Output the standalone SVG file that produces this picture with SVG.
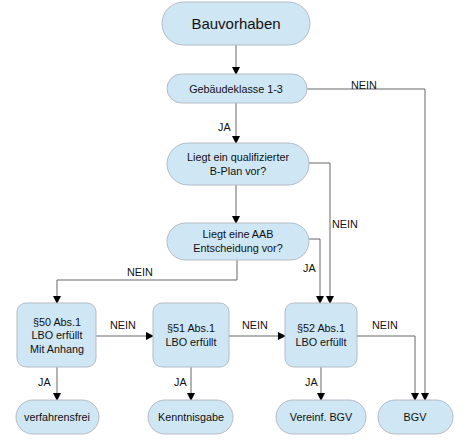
<svg xmlns="http://www.w3.org/2000/svg" width="464" height="445" viewBox="0 0 464 445">
<style>
.n{fill:#cfe6f5;stroke:#b4bcc4;stroke-width:1}
.t{font-family:"Liberation Sans",Arial,sans-serif;font-size:10.8px;fill:#111;text-anchor:middle}
.l{font-family:"Liberation Sans",Arial,sans-serif;font-size:10.8px;fill:#111}
.c{fill:none;stroke:#666;stroke-width:1}
</style>
<defs>
<marker id="a" markerWidth="8" markerHeight="10" refX="7" refY="4" orient="auto" markerUnits="userSpaceOnUse" viewBox="0 0 8 8">
<path d="M0,0 L8,4 L0,8 Z" fill="#000"/>
</marker>
</defs>
<rect width="464" height="445" fill="#fff"/>
<g id="connectors">
<path class="c" d="M236,45 V74" marker-end="url(#a)"/>
<path class="c" d="M236,103 V143" marker-end="url(#a)"/>
<path class="c" d="M236,185 V223" marker-end="url(#a)"/>
<path class="c" d="M307,89 H425 V400" marker-end="url(#a)"/>
<path class="c" d="M308,163 H330 V303" marker-end="url(#a)"/>
<path class="c" d="M307,239 H320 V303" marker-end="url(#a)"/>
<path class="c" d="M237,260 V280 H57 V303" marker-end="url(#a)"/>
<path class="c" d="M96,336 H153" marker-end="url(#a)"/>
<path class="c" d="M229,336 H285" marker-end="url(#a)"/>
<path class="c" d="M357,336 H415 V400" marker-end="url(#a)"/>
<path class="c" d="M57,367 V400" marker-end="url(#a)"/>
<path class="c" d="M191,367 V400" marker-end="url(#a)"/>
<path class="c" d="M321,367 V400" marker-end="url(#a)"/>
<text class="l" x="351" y="89">NEIN</text>
<text class="l" x="218" y="131">JA</text>
<text class="l" x="332" y="228">NEIN</text>
<text class="l" x="303" y="272">JA</text>
<text class="l" x="127" y="276">NEIN</text>
<text class="l" x="110" y="329">NEIN</text>
<text class="l" x="242" y="329">NEIN</text>
<text class="l" x="372" y="329">NEIN</text>
<text class="l" x="38" y="386">JA</text>
<text class="l" x="174" y="386">JA</text>
<text class="l" x="305" y="386">JA</text>
</g>
<g id="bauvorhaben">
<rect class="n" x="162" y="2" width="148" height="43" rx="21.5"/>
<text class="t" x="236" y="29" style="font-size:15px">Bauvorhaben</text>
</g>
<g id="gebaeudeklasse">
<rect class="n" x="167" y="74" width="140" height="29" rx="14.5"/>
<text class="t" x="236" y="93">Gebäudeklasse 1-3</text>
</g>
<g id="bplan">
<rect class="n" x="167" y="143" width="142" height="42" rx="21"/>
<text class="t" x="238" y="161">Liegt ein qualifizierter</text>
<text class="t" x="238" y="175">B-Plan vor?</text>
</g>
<g id="aab">
<rect class="n" x="167" y="223" width="142" height="37" rx="18.5"/>
<text class="t" x="238" y="238">Liegt eine AAB</text>
<text class="t" x="238" y="252">Entscheidung vor?</text>
</g>
<g id="p50">
<rect class="n" x="17" y="303" width="79" height="64" rx="9"/>
<text class="t" x="57" y="326">§50 Abs.1</text>
<text class="t" x="57" y="339">LBO erfüllt</text>
<text class="t" x="57" y="353">Mit Anhang</text>
</g>
<g id="p51">
<rect class="n" x="153" y="303" width="76" height="64" rx="9"/>
<text class="t" x="191" y="332">§51 Abs.1</text>
<text class="t" x="191" y="346">LBO erfüllt</text>
</g>
<g id="p52">
<rect class="n" x="285" y="303" width="72" height="64" rx="9"/>
<text class="t" x="321" y="332">§52 Abs.1</text>
<text class="t" x="321" y="346">LBO erfüllt</text>
</g>
<g id="verfahrensfrei">
<rect class="n" x="16" y="400" width="83" height="34" rx="17"/>
<text class="t" x="57" y="421">verfahrensfrei</text>
</g>
<g id="kenntnisgabe">
<rect class="n" x="148" y="400" width="85" height="34" rx="17"/>
<text class="t" x="191" y="421">Kenntnisgabe</text>
</g>
<g id="vereinf">
<rect class="n" x="276" y="400" width="90" height="34" rx="17"/>
<text class="t" x="321" y="421">Vereinf. BGV</text>
</g>
<g id="bgv">
<rect class="n" x="378" y="400" width="75" height="34" rx="17"/>
<text class="t" x="415" y="421">BGV</text>
</g>
</svg>
